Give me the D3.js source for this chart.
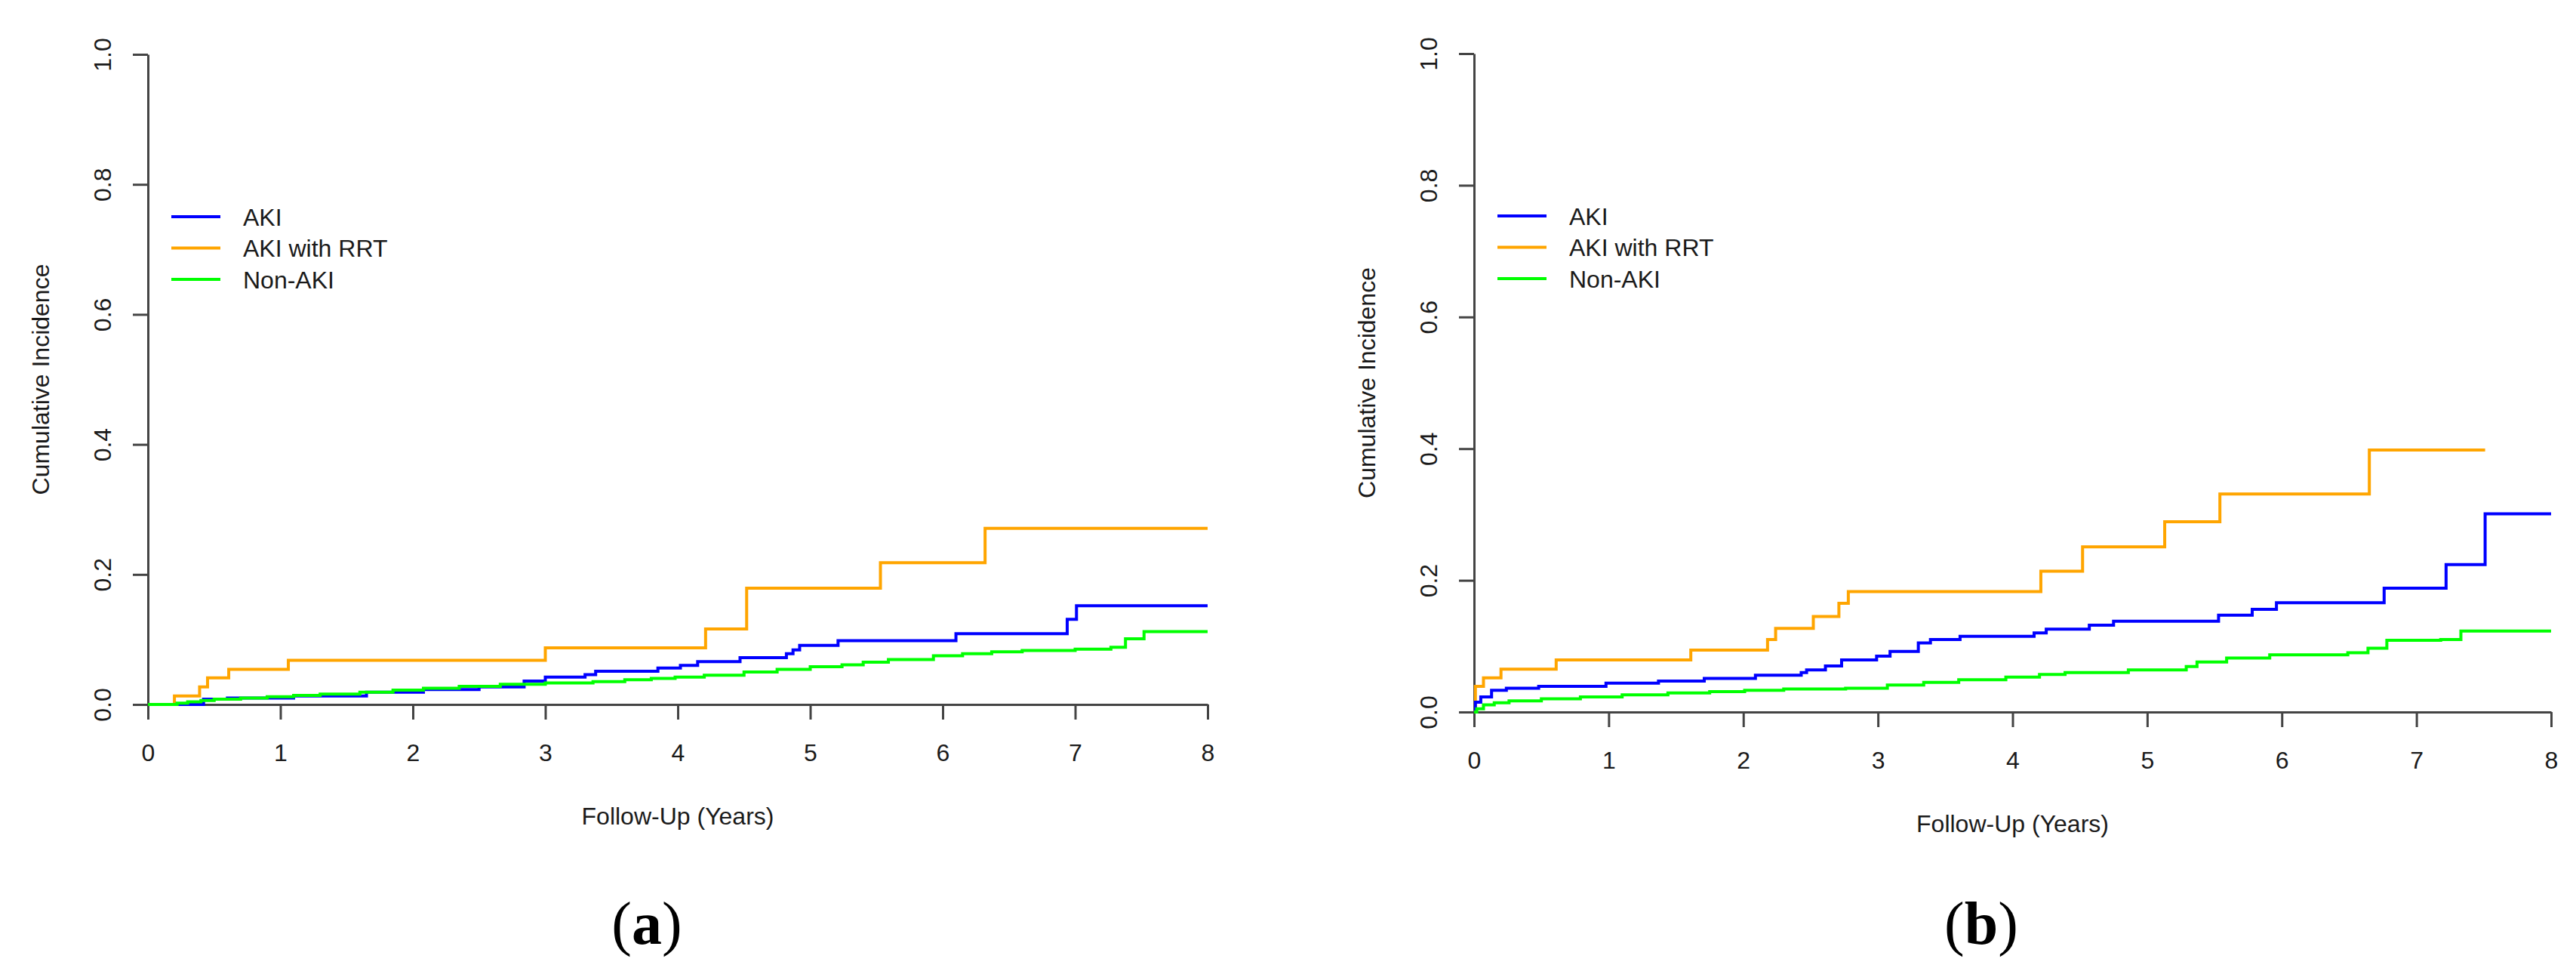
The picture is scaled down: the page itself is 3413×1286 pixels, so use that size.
<!DOCTYPE html>
<html lang="en">
<head>
    <meta charset="UTF-8">
    <title>Cumulative Incidence by AKI Status</title>
    <script src="https://d3js.org/d3.v7.min.js"></script>
    <style>
        body {
            margin: 0;
            background: #ffffff;
        }
        svg {
            display: block;
        }
        .tick-label, .axis-title, .legend-text {
            font-family: "Liberation Sans", Arial, sans-serif;
            font-size: 32px;
            fill: #1a1a1a;
        }
        .panel-label {
            font-family: "Liberation Serif", "Times New Roman", serif;
            font-size: 80px;
            fill: #000;
        }
    </style>
</head>
<body>
<div id="chart"></div>

<script>
    // ---- data ----
    const xTicks = [0, 1, 2, 3, 4, 5, 6, 7, 8];
    const yTicks = [0.0, 0.2, 0.4, 0.6, 0.8, 1.0];
    const seriesNames = ["AKI", "AKI with RRT", "Non-AKI"];
    const xTitle = "Follow-Up (Years)";
    const yTitle = "Cumulative Incidence";
    const panelNames = ["a", "b"];

    // panel (a): [years, cumulative incidence]
    const akiA = [[0, 0], [0.42, 0.008], [0.6, 0.010], [1.1, 0.013], [1.65, 0.019], [2.08, 0.023], [2.5, 0.027],
        [2.84, 0.036], [3.0, 0.042], [3.3, 0.046], [3.38, 0.051], [3.85, 0.056], [4.02, 0.060], [4.15, 0.066],
        [4.47, 0.072], [4.82, 0.078], [4.87, 0.084], [4.92, 0.091], [5.21, 0.098], [6.10, 0.109], [6.94, 0.131],
        [7.01, 0.152], [8.0, 0.152]];
    const rrtA = [[0, 0], [0.20, 0.013], [0.39, 0.027], [0.45, 0.041], [0.61, 0.054], [1.06, 0.068], [3.0, 0.087],
        [4.21, 0.116], [4.52, 0.179], [5.53, 0.218], [6.32, 0.271], [8.0, 0.271]];
    const nonA = [[0, 0], [0.22, 0.002], [0.3, 0.004], [0.4, 0.006], [0.5, 0.008], [0.7, 0.010], [0.9, 0.012],
        [1.1, 0.014], [1.3, 0.016], [1.6, 0.019], [1.85, 0.022], [2.08, 0.025], [2.35, 0.028], [2.66, 0.031],
        [3.0, 0.033], [3.36, 0.035], [3.6, 0.038], [3.8, 0.040], [3.98, 0.042], [4.2, 0.045], [4.5, 0.050],
        [4.75, 0.054], [5.0, 0.058], [5.24, 0.061], [5.4, 0.065], [5.59, 0.069], [5.93, 0.075], [6.15, 0.078],
        [6.37, 0.081], [6.6, 0.083], [7.0, 0.085], [7.27, 0.088], [7.38, 0.101], [7.52, 0.112], [8.0, 0.112]];

    // panel (b)
    const akiB = [[0, 0], [0.01, 0.015], [0.05, 0.023], [0.13, 0.033], [0.24, 0.036], [0.48, 0.039], [0.98, 0.044],
        [1.37, 0.047], [1.71, 0.051], [2.09, 0.056], [2.43, 0.060], [2.47, 0.064], [2.61, 0.070], [2.73, 0.079],
        [2.99, 0.085], [3.09, 0.092], [3.3, 0.105], [3.39, 0.110], [3.61, 0.115], [4.16, 0.120], [4.25, 0.126],
        [4.57, 0.132], [4.75, 0.138], [5.53, 0.147], [5.78, 0.156], [5.96, 0.166], [6.76, 0.188], [7.22, 0.224],
        [7.51, 0.301], [8.0, 0.301]];
    const rrtB = [[0, 0], [0.01, 0.039], [0.07, 0.052], [0.2, 0.065], [0.61, 0.079], [1.61, 0.094], [2.18, 0.110],
        [2.24, 0.127], [2.52, 0.145], [2.71, 0.165], [2.78, 0.183], [4.21, 0.214], [4.52, 0.251], [5.13, 0.289],
        [5.54, 0.331], [6.65, 0.398], [7.51, 0.398]];
    const nonB = [[0, 0], [0.02, 0.005], [0.07, 0.011], [0.15, 0.014], [0.26, 0.017], [0.5, 0.020], [0.79, 0.023],
        [1.1, 0.026], [1.44, 0.029], [1.75, 0.031], [2.01, 0.033], [2.3, 0.035], [2.76, 0.036], [3.07, 0.041],
        [3.34, 0.045], [3.6, 0.049], [3.95, 0.053], [4.2, 0.057], [4.39, 0.060], [4.86, 0.064], [5.29, 0.069],
        [5.37, 0.076], [5.59, 0.082], [5.91, 0.087], [6.49, 0.090], [6.64, 0.097], [6.78, 0.109], [7.18, 0.110],
        [7.33, 0.123], [8.0, 0.123]];

    const colors = ["#0000ff", "#ffa500", "#00ff00"];

    // ---- layout ----
    const W = 3413, H = 1286;
    const panels = [
        { name: panelNames[0], series: [akiA, rrtA, nonA], x0: 196, x1: 1600, yTop: 72, yBot: 933, labelX: 857 },
        { name: panelNames[1], series: [akiB, rrtB, nonB], x0: 1953, x1: 3380, yTop: 71, yBot: 943, labelX: 2625 }
    ];

    const svg = d3.select("#chart").append("svg")
        .attr("width", W)
        .attr("height", H);

    svg.append("rect").attr("width", W).attr("height", H).attr("fill", "#fff");

    panels.forEach(p => drawPanel(p));

    function drawPanel(p) {
        const g = svg.append("g");

        const x = d3.scaleLinear().domain([0, 8]).range([p.x0, p.x1]);
        const y = d3.scaleLinear().domain([0, 1]).range([p.yBot, p.yTop]);

        // x axis
        const gx = g.append("g")
            .attr("transform", `translate(0,${p.yBot})`)
            .call(d3.axisBottom(x).tickValues(xTicks).tickFormat(d3.format("d")).tickSize(20).tickSizeOuter(0));
        gx.selectAll("text")
            .attr("class", "tick-label")
            .attr("y", 75)
            .attr("dy", 0)
            .attr("font-size", null)
            .attr("font-family", null);

        // y axis, labels turned like base R
        const gy = g.append("g")
            .attr("transform", `translate(${p.x0},0)`)
            .call(d3.axisLeft(y).tickValues(yTicks).tickFormat(d3.format(".1f")).tickSize(20).tickSizeOuter(0));
        gy.selectAll("text")
            .attr("class", "tick-label")
            .attr("x", 0)
            .attr("dy", 0)
            .attr("text-anchor", "middle")
            .attr("transform", "translate(-49,0) rotate(-90)");

        [gx, gy].forEach(a => {
            a.attr("font-size", null).attr("font-family", null);
            a.select(".domain").attr("stroke", "#444").attr("stroke-width", 3);
            a.selectAll(".tick line").attr("stroke", "#444").attr("stroke-width", 3);
        });

        // titles
        g.append("text")
            .attr("class", "axis-title")
            .attr("x", (p.x0 + p.x1) / 2)
            .attr("y", p.yBot + 159)
            .attr("text-anchor", "middle")
            .text(xTitle);

        g.append("text")
            .attr("class", "axis-title")
            .attr("text-anchor", "middle")
            .attr("transform", `translate(${p.x0 - 131},${(p.yTop + p.yBot) / 2}) rotate(-90)`)
            .text(yTitle);

        // step curves
        const line = d3.line()
            .x(d => x(d[0]))
            .y(d => y(d[1]))
            .curve(d3.curveStepAfter);

        // draw order: AKI with RRT, AKI, Non-AKI
        [1, 0, 2].forEach(i => {
            g.append("path")
                .datum(p.series[i])
                .attr("fill", "none")
                .attr("stroke", colors[i])
                .attr("stroke-width", 4)
                .attr("d", line);
        });

        // legend
        const leg = g.append("g")
            .attr("transform", `translate(${p.x0},${p.yTop + 215})`);
        seriesNames.forEach((name, i) => {
            const row = leg.append("g").attr("transform", `translate(0,${i * 41.5})`);
            row.append("line")
                .attr("x1", 31).attr("x2", 96)
                .attr("y1", 0).attr("y2", 0)
                .attr("stroke", colors[i])
                .attr("stroke-width", 4);
            row.append("text")
                .attr("class", "legend-text")
                .attr("x", 126)
                .attr("y", 11.5)
                .text(name);
        });

        // panel label
        const lab = svg.append("text")
            .attr("class", "panel-label")
            .attr("x", p.labelX)
            .attr("y", 1250)
            .attr("text-anchor", "middle");
        lab.append("tspan").text("(");
        lab.append("tspan").attr("font-weight", "bold").text(p.name);
        lab.append("tspan").text(")");
    }
</script>
</body>
</html>
